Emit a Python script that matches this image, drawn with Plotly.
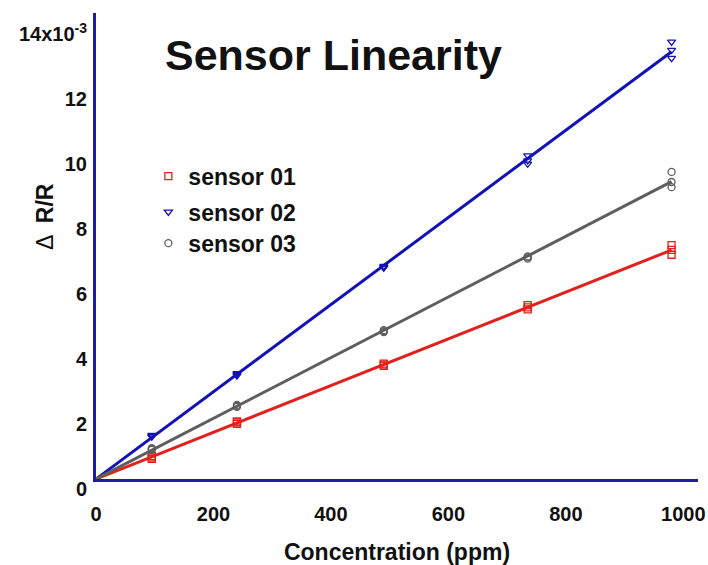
import numpy as np
import plotly.graph_objects as go

# Concentration levels (ppm), three replicate readings per level
concentration = [95, 240, 490, 735, 980]

# ΔR/R readings, in units of 1e-3, three replicates per concentration
sensor01 = [[0.66, 0.70, 0.62], [1.74, 1.70, 1.77], [3.55, 3.48, 3.52],
            [5.35, 5.22, 5.28], [7.20, 7.05, 6.90]]
sensor02 = [[1.35, 1.30, 1.32], [3.22, 3.25, 3.18], [6.55, 6.50, 6.52],
            [9.95, 9.80, 9.70], [13.45, 13.20, 12.95]]
sensor03 = [[0.95, 0.90, 0.92], [2.25, 2.22, 2.28], [4.58, 4.52, 4.55],
            [6.85, 6.78, 6.82], [9.45, 9.14, 8.98]]

series_names = ["sensor 01", "sensor 02", "sensor 03"]
y_ticks = [0, 2, 4, 6, 8, 10, 12, 14]
y_ticktext = ["0", "2", "4", "6", "8", "10", "12", "14x10<sup>-3</sup>"]
x_ticks = [0, 200, 400, 600, 800, 1000]

colors = ["#e3201b", "#1212b8", "#5e5e5e"]
symbols = ["square-open", "triangle-down-open", "circle-open"]
legend_ids = ["legend", "legend2", "legend3"]
legend_y = [0.650, 0.573, 0.506]

FONT = "Liberation Sans, Arial, sans-serif"
AXIS_BLUE = "#1c1ca6"
INK = "#111111"

fig = go.Figure()

for data, name, color, sym, lg in zip([sensor01, sensor02, sensor03], series_names,
                                      colors, symbols, legend_ids):
    xs = np.repeat(concentration, 3).astype(float)
    ys = np.array(data, dtype=float).ravel()
    # least-squares line through the origin
    slope = float(np.sum(xs * ys) / np.sum(xs * xs))
    fit_x = np.array([0.0, max(concentration)])
    fig.add_trace(go.Scatter(
        x=fit_x, y=slope * fit_x, mode="lines",
        line=dict(color=color, width=3), showlegend=False, hoverinfo="skip"))
    fig.add_trace(go.Scatter(
        x=xs, y=ys, mode="markers", name=name, legend=lg,
        marker=dict(symbol=sym, size=7, color=color, line=dict(width=1.3, color=color))))

legend_common = dict(
    font=dict(family=FONT, size=23, color=INK, weight="bold"),
    bgcolor="rgba(0,0,0,0)", xanchor="left", yanchor="middle",
    itemsizing="trace", borderwidth=0, tracegroupgap=0)

layout_legends = {}
for lg, ly in zip(legend_ids, legend_y):
    layout_legends[lg] = dict(legend_common, x=0.087, y=ly)

fig.update_layout(
    width=708, height=565,
    margin=dict(l=96, r=10, t=13, b=86, autoexpand=False),
    paper_bgcolor="white", plot_bgcolor="white",
    font=dict(family=FONT, color=INK),
    xaxis=dict(
        range=[0, 1025], tickvals=x_ticks, showgrid=False, zeroline=False,
        showline=True, linecolor=AXIS_BLUE, linewidth=3, ticks="",
        automargin=False,
        tickfont=dict(family=FONT, size=20, color=INK, weight="bold"),
        ticklabelstandoff=15,
        title=dict(text="Concentration (ppm)", standoff=20,
                   font=dict(family=FONT, size=23, color=INK, weight="bold")),
    ),
    yaxis=dict(
        range=[0, 14.34], tickvals=y_ticks, ticktext=y_ticktext,
        showgrid=False, zeroline=False,
        showline=True, linecolor=AXIS_BLUE, linewidth=3, ticks="",
        automargin=False,
        tickfont=dict(family=FONT, size=20, color=INK, weight="bold"),
        ticklabelshift=10, ticklabelstandoff=2,
    ),
    annotations=[
        dict(text="<b>Sensor Linearity</b>", xref="paper", yref="paper",
             x=0.111, y=0.91, xanchor="left", yanchor="middle", showarrow=False,
             font=dict(family=FONT, size=43, color=INK)),
        dict(text="Δ  <b>R/R</b>", xref="paper", yref="paper", textangle=-90,
             x=-0.085, y=0.564, xanchor="center", yanchor="middle", showarrow=False,
             font=dict(family=FONT, size=23, color=INK)),
    ],
    **layout_legends,
)

fig.write_html("out.html")
